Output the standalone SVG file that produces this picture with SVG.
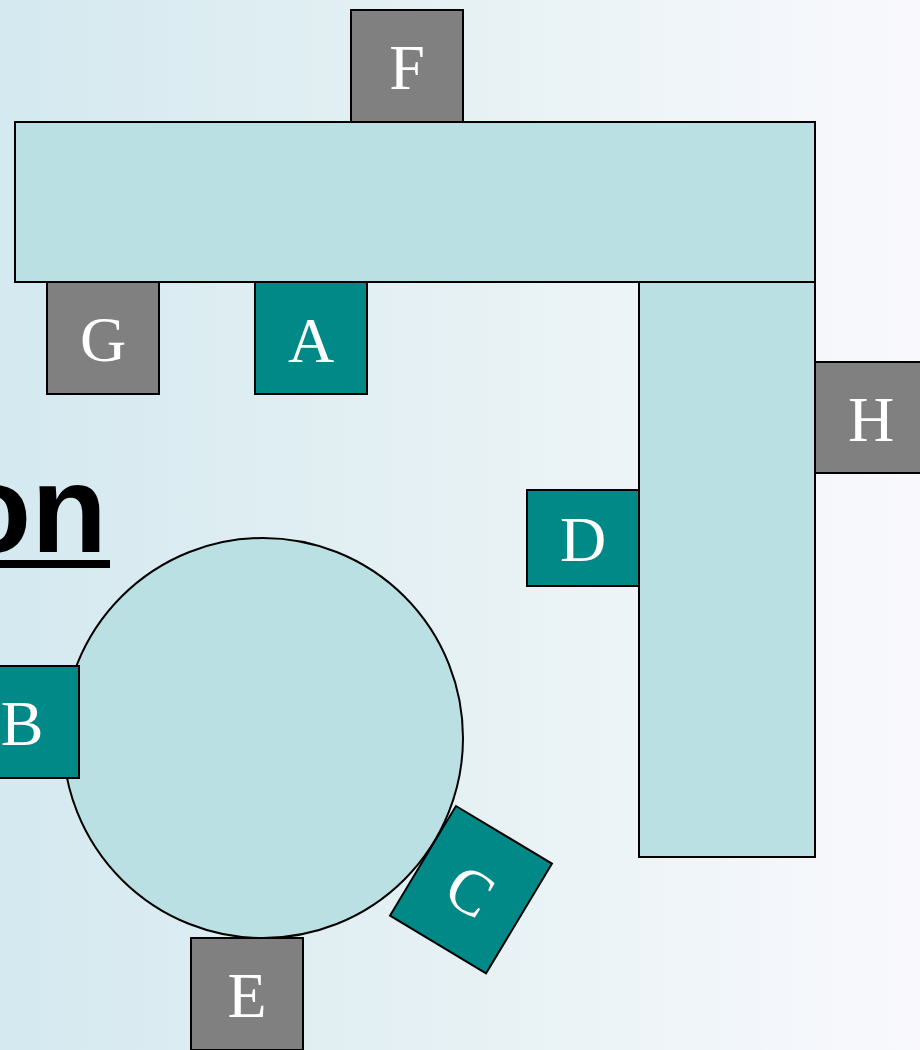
<svg xmlns="http://www.w3.org/2000/svg" width="920" height="1050" viewBox="0 0 920 1050">
<defs>
<linearGradient id="bg" x1="0" y1="0" x2="1" y2="0">
<stop offset="0" stop-color="#d4e9f0"/>
<stop offset="0.5" stop-color="#e6f1f4"/>
<stop offset="1" stop-color="#f9f9fd"/>
</linearGradient>
<style>
.bar{fill:#bae0e3;stroke:#000;stroke-width:2}
.teal{fill:#008986;stroke:#000;stroke-width:2}
.gray{fill:#808080;stroke:#000;stroke-width:2}
.lbl{font-family:"Liberation Serif","Times New Roman",serif;font-size:64px;fill:#fff;text-anchor:middle}
</style>
</defs>
<rect x="0" y="0" width="920" height="1050" fill="url(#bg)"/>
<g id="title">
<text x="107" y="552" font-family="Liberation Sans, Arial, sans-serif" font-weight="bold" font-size="124" text-anchor="end" fill="#000">on</text>
<rect x="0" y="560" width="110" height="8" fill="#000"/>
</g>
<g id="topbar"><rect class="bar" x="15" y="122" width="800" height="160"/></g>
<g id="sidebar"><rect class="bar" x="639" y="282" width="176" height="575"/></g>
<g id="table"><circle class="bar" cx="263" cy="738" r="200"/></g>
<g id="F"><rect class="gray" x="351" y="10" width="112" height="112"/><text class="lbl" x="407" y="89">F</text></g>
<g id="G"><rect class="gray" x="47" y="282" width="112" height="112"/><text class="lbl" x="103" y="361">G</text></g>
<g id="A"><rect class="teal" x="255" y="282" width="112" height="112"/><text class="lbl" x="311" y="362">A</text></g>
<g id="H"><rect class="gray" x="815" y="362" width="112" height="111"/><text class="lbl" x="871" y="441">H</text></g>
<g id="D"><rect class="teal" x="527" y="490" width="112" height="96"/><text class="lbl" x="583" y="561">D</text></g>
<g id="B"><rect class="teal" x="-33" y="666" width="112" height="112"/><text class="lbl" x="22" y="745">B</text></g>
<g id="E"><rect class="gray" x="191" y="938" width="112" height="112"/><text class="lbl" x="247" y="1017">E</text></g>
<g id="C" transform="translate(471,889.7) rotate(31)"><rect class="teal" x="-56" y="-64" width="112" height="128"/><text class="lbl" x="0" y="23">C</text></g>
<g id="connectors"/>
</svg>
